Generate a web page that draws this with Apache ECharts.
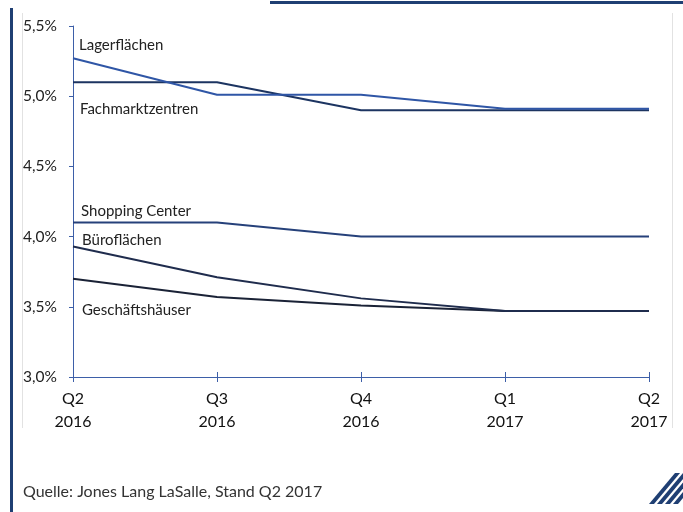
<!DOCTYPE html>
<html>
<head>
<meta charset="utf-8">
<script src="https://cdn.jsdelivr.net/npm/echarts/dist/echarts.min.js"></script>
<style>
  html, body { margin: 0; padding: 0; background: #fff; }
  #chart { width: 683px; height: 512px; }
</style>
</head>
<body>
<div id="chart"></div>
<script>
// Quarters on the x axis
const quarters = ['Q2\n2016', 'Q3\n2016', 'Q4\n2016', 'Q1\n2017', 'Q2\n2017'];

// Prime yields per asset class, in percent
const lagerflaechen    = [5.27, 5.01, 5.01, 4.91, 4.91];
const fachmarktzentren = [5.10, 5.10, 4.90, 4.90, 4.90];
const shoppingCenter   = [4.10, 4.10, 4.00, 4.00, 4.00];
const bueroflaechen    = [3.93, 3.71, 3.56, 3.47, 3.47];
const geschaeftshaeuser = [3.70, 3.57, 3.51, 3.47, 3.47];

// Y axis range and step
const yMin = 3.0, yMax = 5.5, yStep = 0.5;

const FONT = 'Lato, "Open Sans", sans-serif';
const NAVY = '#1f3f73';
const AXIS = '#3d5fa8';

const chart = echarts.init(document.getElementById('chart'), null, { renderer: 'canvas' });

function line(name, data, color, z) {
  return {
    name, type: 'line', data, xAxisIndex: 0, yAxisIndex: 0,
    symbol: 'none', z,
    lineStyle: { color, width: 2 },
    emphasis: { disabled: true }
  };
}

function seriesLabel(text, x, y) {
  return {
    type: 'text', left: x, top: y - 8,
    style: { text, font: '15px ' + FONT, fill: '#222' }
  };
}

chart.setOption({
  animation: false,
  grid: { left: 73, top: 26, width: 576, height: 351 },
  xAxis: [{
    type: 'category', data: quarters, boundaryGap: false,
    axisLine: { lineStyle: { color: AXIS, width: 1 } },
    axisTick: { show: true, length: 5, lineStyle: { color: AXIS } },
    axisLabel: { color: '#111', fontFamily: FONT, fontSize: 16, lineHeight: 23, margin: 10 },
    splitLine: { show: false }
  }, {
    // inner half of the crossing x ticks
    type: 'category', data: quarters, boundaryGap: false, position: 'bottom',
    axisLine: { show: false },
    axisTick: { show: true, inside: true, length: 5, lineStyle: { color: AXIS } },
    axisLabel: { show: false },
    splitLine: { show: false }
  }],
  yAxis: {
    type: 'value', min: yMin, max: yMax, interval: yStep,
    axisLine: { show: true, lineStyle: { color: AXIS, width: 1 } },
    axisTick: { show: true, length: 4, lineStyle: { color: AXIS } },
    axisLabel: {
      color: '#222', fontFamily: FONT, fontSize: 15.5, align: 'left', margin: 50,
      formatter: v => v.toFixed(1).replace('.', ',') + '%'
    },
    splitLine: { show: false }
  },
  series: [
    line('Shopping Center', shoppingCenter, '#26417a', 2),
    line('Geschäftshäuser', geschaeftshaeuser, '#1a2236', 2),
    line('Büroflächen', bueroflaechen, '#1f2c4d', 3),
    line('Fachmarktzentren', fachmarktzentren, '#1c3461', 3),
    line('Lagerflächen', lagerflaechen, '#2f56a6', 4)
  ],
  graphic: [
    // page frame
    { type: 'rect', shape: { x: 10, y: 8, width: 3, height: 504 }, style: { fill: NAVY } },
    { type: 'rect', shape: { x: 270, y: 1, width: 413, height: 3 }, style: { fill: NAVY } },
    { type: 'line', shape: { x1: 22.5, y1: 13, x2: 22.5, y2: 428 }, style: { stroke: '#e2e2e2', lineWidth: 1 } },
    { type: 'line', shape: { x1: 672.5, y1: 13, x2: 672.5, y2: 428 }, style: { stroke: '#e2e2e2', lineWidth: 1 } },
    // series names
    seriesLabel('Lagerflächen', 79, 46),
    seriesLabel('Fachmarktzentren', 80, 110),
    seriesLabel('Shopping Center', 81, 212),
    seriesLabel('Büroflächen', 82, 241),
    seriesLabel('Geschäftshäuser', 82, 311),
    // source note
    { type: 'text', left: 23, top: 484, style: { text: 'Quelle: Jones Lang LaSalle, Stand Q2 2017', font: '16px ' + FONT, fill: '#333' } },
    // striped logo mark
    { type: 'polygon', shape: { points: [[649, 504], [654, 504], [680, 473], [675, 473]] }, style: { fill: NAVY } },
    { type: 'polygon', shape: { points: [[657, 504], [662, 504], [688, 473], [683, 473]] }, style: { fill: NAVY } },
    { type: 'polygon', shape: { points: [[665, 504], [670, 504], [696, 473], [691, 473]] }, style: { fill: NAVY } },
    { type: 'polygon', shape: { points: [[673, 504], [678, 504], [704, 473], [699, 473]] }, style: { fill: NAVY } }
  ]
});
</script>
</body>
</html>
